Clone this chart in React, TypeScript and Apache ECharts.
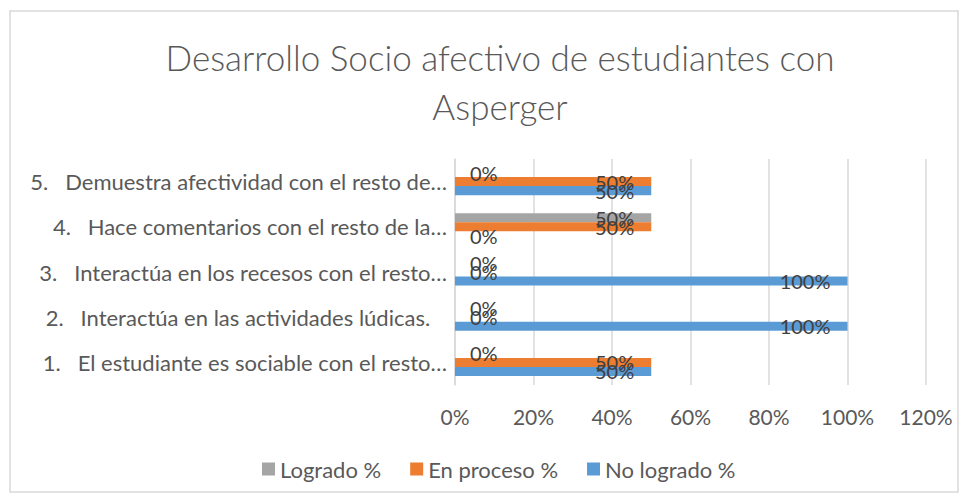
import React, { useEffect, useRef } from "react";
import * as echarts from "echarts";

const categories = [
  "1.   El estudiante es sociable con el resto…",
  "2.   Interactúa en las actividades lúdicas.\u00a0\u00a0\u00a0",
  "3.   Interactúa en los recesos con el resto…",
  "4.   Hace comentarios con el resto de la…",
  "5.   Demuestra afectividad con el resto de…",
];
const seriesNames = ["Logrado %", "En proceso %", "No logrado %"];
const logrado = [0, 0, 0, 50, 0];
const enProceso = [50, 0, 0, 50, 50];
const noLogrado = [50, 100, 100, 0, 50];
const xTicks = [0, 20, 40, 60, 80, 100, 120];
const colors = ["#a5a5a5", "#ed7d31", "#5b9bd5"];

const FONT = "Lato, 'Open Sans', sans-serif";
const TEXT = "#595959";

export default function App() {
  const ref = useRef<HTMLDivElement>(null);
  useEffect(() => {
    if (!ref.current) return;
    const chart = echarts.init(ref.current, undefined, { renderer: "svg" });
    const mk = (name: string, vals: number[], color: string) => ({
      name,
      type: "bar",
      barGap: "0%",
      barCategoryGap: "40%",
      itemStyle: { color },
      data: vals.map((v) => ({
        value: v,
        label:
          v === 0
            ? { position: "right", distance: 15 }
            : { position: "insideRight", distance: 17 },
      })),
      label: {
        show: true,
        formatter: "{c}%",
        color: "#404040",
        fontSize: 20,
        fontFamily: FONT,
      },
    });
    chart.setOption({
      animation: false,
      backgroundColor: "#ffffff",
      title: {
        text: "Desarrollo Socio afectivo de estudiantes con\nAsperger",
        left: 495,
        textAlign: "center",
        top: 27,
        textStyle: {
          fontFamily: FONT,
          fontWeight: 300,
          fontSize: 35,
          lineHeight: 49,
          color: TEXT,
        },
      },
      graphic: [
        {
          type: "rect",
          shape: { x: 10, y: 11, width: 948, height: 481 },
          style: { fill: "none", stroke: "#d9d9d9", lineWidth: 1.5 },
          silent: true,
        },
      ],
      legend: {
        data: seriesNames,
        left: 257,
        top: 453,
        icon: "rect",
        itemWidth: 13,
        itemHeight: 13,
        itemGap: 29,
        textStyle: { fontFamily: FONT, fontSize: 22, color: TEXT, padding: [0, 0, 0, 0] },
      },
      grid: { left: 455, right: 44, top: 159, bottom: 117, containLabel: false },
      xAxis: {
        type: "value",
        min: 0,
        max: 120,
        interval: 20,
        axisLabel: {
          formatter: (v: number) => (xTicks.includes(v) ? v + "%" : ""),
          fontFamily: FONT,
          fontSize: 21,
          color: TEXT,
          margin: 21,
        },
        axisLine: { show: false },
        axisTick: { show: false },
        splitLine: { lineStyle: { color: "#d9d9d9", width: 1.5 } },
      },
      yAxis: {
        type: "category",
        data: categories,
        axisLine: { show: true, lineStyle: { color: "#d9d9d9", width: 1.5 } },
        axisTick: { show: false },
        axisLabel: {
          fontFamily: FONT,
          fontSize: 22,
          color: TEXT,
          margin: 8,
        },
      },
      series: [
        mk(seriesNames[0], logrado, colors[0]),
        mk(seriesNames[1], enProceso, colors[1]),
        mk(seriesNames[2], noLogrado, colors[2]),
      ],
    });
    return () => chart.dispose();
  }, []);
  return (
    <div style={{ position: "fixed", left: 0, top: 0, width: 970, height: 502 }}>
      <div ref={ref} style={{ width: 970, height: 502 }} />
    </div>
  );
}
